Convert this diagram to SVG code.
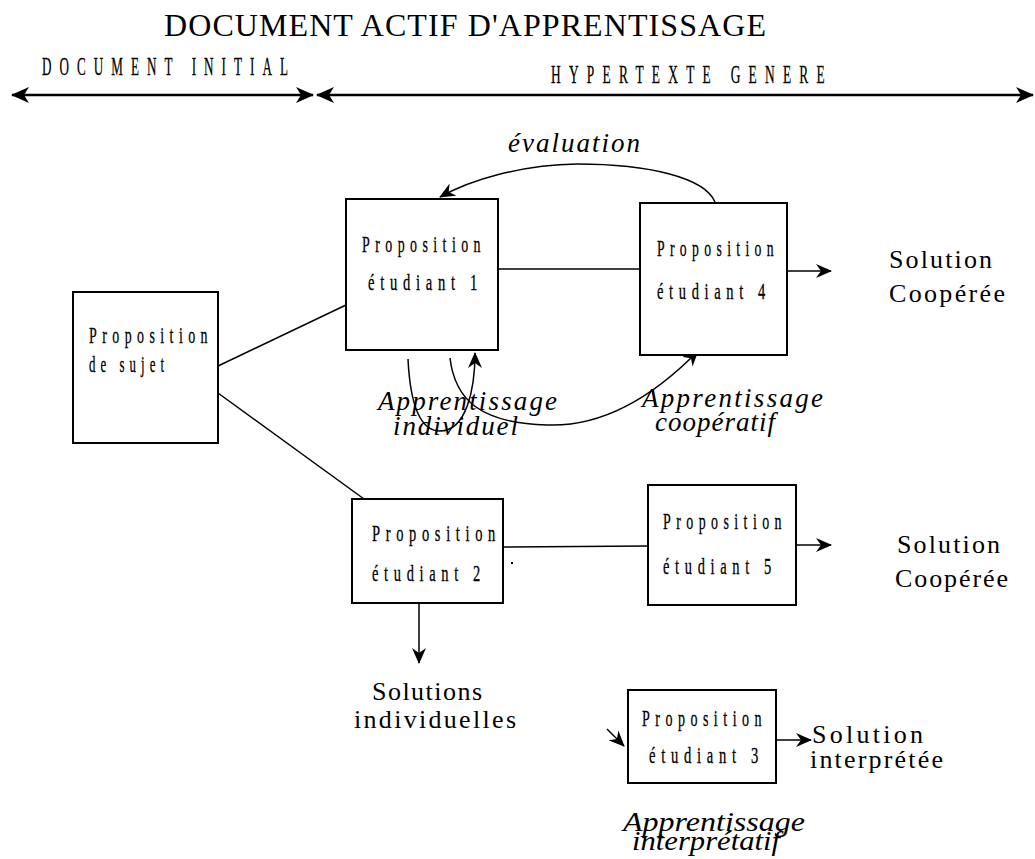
<svg xmlns="http://www.w3.org/2000/svg" width="1035" height="859" viewBox="0 0 1035 859">
<style>
.box{fill:#fff;stroke:#000;stroke-width:2}
.bt{font-family:"Liberation Serif",serif;font-size:23px;letter-spacing:9px;fill:#000;stroke:#000;stroke-width:0.3}
.hd{font-family:"Liberation Serif",serif;font-size:26px;letter-spacing:16px;fill:#000;stroke:#000;stroke-width:0.3}
.ti{font-family:"Liberation Serif",serif;font-size:32px;fill:#000}
.lb{font-family:"Liberation Serif",serif;font-size:26px;fill:#000}
.it{font-family:"Liberation Serif",serif;font-size:27px;font-style:italic;fill:#000}
.ln{stroke:#000;stroke-width:1.5;fill:none}
.ax{stroke:#000;stroke-width:2.5;fill:none}
</style>
<defs>
<marker id="ar" viewBox="0 0 16 14" markerWidth="16" markerHeight="14" refX="15" refY="7" orient="auto-start-reverse" markerUnits="userSpaceOnUse">
<path d="M0,0 L16,7 L0,14 L5,7 z" fill="#000"/>
</marker>
<marker id="ab" viewBox="0 0 18 16" markerWidth="18" markerHeight="16" refX="17" refY="8" orient="auto-start-reverse" markerUnits="userSpaceOnUse">
<path d="M0,0 L18,8 L0,16 L5,8 z" fill="#000"/>
</marker>
</defs>

<g id="header">
<text class="ti" x="164" y="36" textLength="602" lengthAdjust="spacing">DOCUMENT ACTIF D'APPRENTISSAGE</text>
<text class="hd" x="42" y="75" textLength="254" lengthAdjust="spacingAndGlyphs">DOCUMENT INITIAL</text>
<text class="hd" x="551" y="83" textLength="282" lengthAdjust="spacingAndGlyphs">HYPERTEXTE GENERE</text>
</g>

<g id="connectors">
<line class="ax" x1="12" y1="95" x2="313" y2="95" marker-start="url(#ab)" marker-end="url(#ab)"/>
<line class="ax" x1="317" y1="95" x2="1033" y2="95" marker-start="url(#ab)" marker-end="url(#ab)"/>
<line class="ln" x1="218" y1="366" x2="346" y2="305"/>
<line class="ln" x1="218" y1="393" x2="364" y2="499"/>
<line class="ln" x1="498" y1="269" x2="640" y2="269"/>
<line class="ln" x1="787" y1="271" x2="831" y2="271" stroke-width="2" marker-end="url(#ar)"/>
<line class="ln" x1="503" y1="547" x2="648" y2="546"/>
<line class="ln" x1="796" y1="545" x2="831" y2="545" stroke-width="2" marker-end="url(#ar)"/>
<line class="ln" x1="419" y1="603" x2="419" y2="663" stroke-width="2" marker-end="url(#ar)"/>
<line class="ln" x1="776" y1="740" x2="811" y2="740" stroke-width="2" marker-end="url(#ar)"/>
<line class="ln" x1="607" y1="729" x2="624" y2="746" stroke-width="2" marker-end="url(#ar)"/>
<path class="ln" d="M715,202 C705,178 650,164 577,164 C520,165 470,180 440,197" stroke-width="2" marker-end="url(#ar)"/>
<path class="ln" d="M408,359 C410,400 418,431 440,431 C466,431 475,390 475,353" marker-end="url(#ar)"/>
<path class="ln" d="M450,358 C455,400 480,423 547,425 C600,427 650,400 698,351" marker-end="url(#ar)"/>
<rect x="511" y="562" width="2" height="2" fill="#000"/>
</g>

<g id="n-sujet">
<rect class="box" x="73" y="292" width="145" height="151"/>
<text class="bt" x="89" y="343" textLength="124" lengthAdjust="spacingAndGlyphs">Proposition</text>
<text class="bt" x="89" y="372" textLength="80" lengthAdjust="spacingAndGlyphs">de sujet</text>
</g>

<g id="n-etudiant1">
<rect class="box" x="346" y="199" width="152" height="151"/>
<text class="bt" x="362" y="252" textLength="124" lengthAdjust="spacingAndGlyphs">Proposition</text>
<text class="bt" x="368" y="290" textLength="115" lengthAdjust="spacingAndGlyphs">étudiant 1</text>
</g>

<g id="n-etudiant4">
<rect class="box" x="640" y="203" width="147" height="152"/>
<text class="bt" x="657" y="256" textLength="122" lengthAdjust="spacingAndGlyphs">Proposition</text>
<text class="bt" x="657" y="299" textLength="114" lengthAdjust="spacingAndGlyphs">étudiant 4</text>
</g>

<g id="n-etudiant2">
<rect class="box" x="352" y="499" width="151" height="104"/>
<text class="bt" x="372" y="541" textLength="129" lengthAdjust="spacingAndGlyphs">Proposition</text>
<text class="bt" x="372" y="581" textLength="114" lengthAdjust="spacingAndGlyphs">étudiant 2</text>
</g>

<g id="n-etudiant5">
<rect class="box" x="648" y="485" width="148" height="120"/>
<text class="bt" x="663" y="529" textLength="124" lengthAdjust="spacingAndGlyphs">Proposition</text>
<text class="bt" x="663" y="574" textLength="114" lengthAdjust="spacingAndGlyphs">étudiant 5</text>
</g>

<g id="n-etudiant3">
<rect class="box" x="628" y="690" width="148" height="93"/>
<text class="bt" x="642" y="726" textLength="125" lengthAdjust="spacingAndGlyphs">Proposition</text>
<text class="bt" x="649" y="763" textLength="115" lengthAdjust="spacingAndGlyphs">étudiant 3</text>
</g>

<g id="labels">
<text class="it" x="508" y="152" textLength="132" lengthAdjust="spacing">évaluation</text>
<text class="it" x="378" y="410" textLength="179" lengthAdjust="spacing">Apprentissage</text>
<text class="it" x="393" y="435" textLength="125" lengthAdjust="spacing">individuel</text>
<text class="it" x="642" y="407" textLength="181" lengthAdjust="spacing">Apprentissage</text>
<text class="it" x="655" y="431" textLength="120" lengthAdjust="spacing">coopératif</text>
<text class="it" x="623" y="831" textLength="182" lengthAdjust="spacingAndGlyphs">Apprentissage</text>
<text class="it" x="632" y="850" textLength="148" lengthAdjust="spacingAndGlyphs">interprétatif</text>
<text class="lb" x="889" y="268" textLength="103" lengthAdjust="spacing">Solution</text>
<text class="lb" x="889" y="302" textLength="116" lengthAdjust="spacing">Coopérée</text>
<text class="lb" x="897" y="553" textLength="103" lengthAdjust="spacing">Solution</text>
<text class="lb" x="895" y="587" textLength="113" lengthAdjust="spacing">Coopérée</text>
<text class="lb" x="372" y="700" textLength="110" lengthAdjust="spacing">Solutions</text>
<text class="lb" x="354" y="728" textLength="162" lengthAdjust="spacing">individuelles</text>
<text class="lb" x="812" y="743" textLength="111" lengthAdjust="spacing">Solution</text>
<text class="lb" x="810" y="768" textLength="133" lengthAdjust="spacing">interprétée</text>
</g>
</svg>
